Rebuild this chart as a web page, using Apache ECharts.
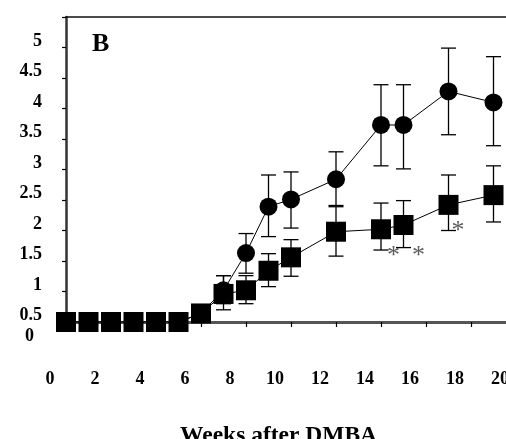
<!DOCTYPE html>
<html>
<head>
<meta charset="utf-8">
<script src="https://cdn.jsdelivr.net/npm/echarts@6/dist/echarts.min.js"></script>
<style>
  html, body { margin: 0; padding: 0; background: #fff; }
  #chart { width: 506px; height: 439px; }
</style>
</head>
<body>
<div id="chart"></div>
<script>
// weeks where each group was measured
var weeks = [0, 1, 2, 3, 4, 5, 6, 7, 8, 9, 10, 12, 14, 15, 17, 19];

// square series (lower curve)
var sqVals = [0.5, 0.5, 0.5, 0.5, 0.5, 0.5, 0.64, 0.96, 1.02, 1.34, 1.56, 1.98, 2.02, 2.09, 2.42, 2.58];
var sqHigh = [0.5, 0.5, 0.5, 0.5, 0.5, 0.5, 0.64, 1.26, 1.26, 1.62, 1.85, 2.39, 2.45, 2.49, 2.91, 3.06];
var sqLow  = [0.5, 0.5, 0.5, 0.5, 0.5, 0.5, 0.64, 0.7, 0.8, 1.08, 1.25, 1.58, 1.68, 1.72, 2.0, 2.14];

// circle series (upper curve)
var ciVals = [0.5, 0.5, 0.5, 0.5, 0.5, 0.5, 0.64, 1.02, 1.63, 2.39, 2.51, 2.84, 3.73, 3.73, 4.28, 4.10];
var ciHigh = [0.5, 0.5, 0.5, 0.5, 0.5, 0.5, 0.64, 1.26, 1.95, 2.91, 2.96, 3.29, 4.39, 4.39, 4.99, 4.85];
var ciLow  = [0.5, 0.5, 0.5, 0.5, 0.5, 0.5, 0.64, 0.8, 1.3, 1.90, 2.04, 2.41, 3.06, 3.01, 3.57, 3.39];

// significance marks
var starPts = [[14.55, 1.65], [15.67, 1.65], [17.42, 2.06]];

var chart = echarts.init(document.getElementById('chart'), null, {renderer: 'canvas'});

function pairs(vals) {
    return weeks.map(function (w, i) { return [w, vals[i]]; });
}
function bars(lo, hi) {
    return weeks.map(function (w, i) { return [w, lo[i], hi[i]]; });
}

function errorBar(params, api) {
    var x = api.value(0);
    var lo = api.coord([x, api.value(1)]);
    var hi = api.coord([x, api.value(2)]);
    var w = 7.5;
    var st = {stroke: '#000', lineWidth: 1.3};
    return {
        type: 'group',
        children: [
            {type: 'line', shape: {x1: hi[0], y1: hi[1], x2: lo[0], y2: lo[1]}, style: st},
            {type: 'line', shape: {x1: hi[0] - w, y1: hi[1], x2: hi[0] + w, y2: hi[1]}, style: st},
            {type: 'line', shape: {x1: lo[0] - w, y1: lo[1], x2: lo[0] + w, y2: lo[1]}, style: st}
        ]
    };
}

var font = 'Liberation Serif';

chart.setOption({
    animation: false,
    grid: {left: 66, top: 17, width: 450, height: 305, outerBoundsMode: 'none', containLabel: false},
    xAxis: [{
        type: 'value',
        min: 0, max: 20, interval: 2,
        axisLine: {show: true, lineStyle: {color: '#555', width: 3}},
        axisTick: {show: true, length: 5, lineStyle: {color: '#000', width: 1.2}},
        axisLabel: {
            margin: 48, fontFamily: font, fontWeight: 'bold', fontSize: 18, color: '#000',
            padding: [0, 32, 0, 0]
        },
        splitLine: {show: false}
    }, {
        type: 'value', position: 'top',
        min: 0, max: 20,
        axisLine: {show: true, lineStyle: {color: '#111', width: 1.5}},
        axisTick: {show: false}, axisLabel: {show: false}, splitLine: {show: false}
    }],
    yAxis: {
        type: 'value',
        min: 0.5, max: 5.5, interval: 0.5,
        axisLine: {show: true, lineStyle: {color: '#333', width: 2.5}},
        axisTick: {show: true, length: 4, lineStyle: {color: '#000', width: 1.2}},
        axisLabel: {
            margin: 24, fontFamily: font, fontWeight: 'bold', fontSize: 18, color: '#000',
            verticalAlign: 'bottom', lineHeight: 13,
            formatter: function (v) { return v === 5.5 ? '' : String(v); }
        },
        splitLine: {show: false}
    },
    graphic: [
        {type: 'text', left: 92, top: 31, style: {text: 'B', font: 'bold 26px "Liberation Serif"', fill: '#000'}},
        {type: 'text', left: 25, top: 327, style: {text: '0', font: 'bold 18px "Liberation Serif"', fill: '#000'}},
        {type: 'text', left: 180, top: 424, style: {text: 'Weeks after DMBA', font: 'bold 23.5px "Liberation Serif"', fill: '#000'}}
    ],
    series: [
        {
            type: 'custom', renderItem: errorBar, data: bars(sqLow, sqHigh),
            encode: {x: 0, y: [1, 2]}, z: 1, silent: true
        },
        {
            type: 'custom', renderItem: errorBar, data: bars(ciLow, ciHigh),
            encode: {x: 0, y: [1, 2]}, z: 1, silent: true
        },
        {
            type: 'line', data: pairs(ciVals),
            symbol: 'circle', symbolSize: 18,
            itemStyle: {color: '#000'},
            lineStyle: {color: '#000', width: 1}, z: 3
        },
        {
            type: 'line', data: pairs(sqVals),
            symbol: 'rect', symbolSize: 20,
            itemStyle: {color: '#000'},
            lineStyle: {color: '#000', width: 1}, z: 4
        },
        {
            type: 'scatter', data: starPts, symbolSize: 0,
            label: {
                show: true, position: 'inside', formatter: '*', offset: [0, 4],
                fontFamily: font, fontSize: 26, color: '#333'
            },
            z: 5
        }
    ]
});
</script>
</body>
</html>
